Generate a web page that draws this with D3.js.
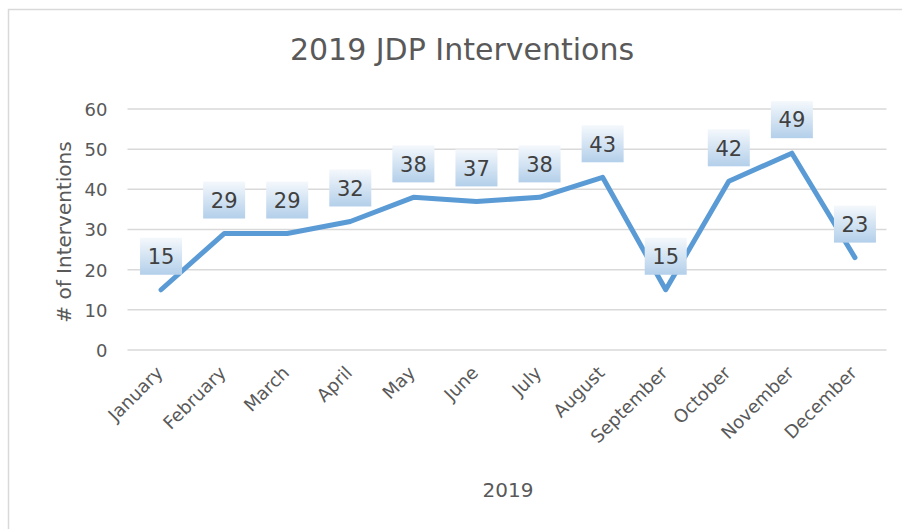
<!DOCTYPE html>
<html>
<head>
<meta charset="utf-8">
<script src="https://cdn.jsdelivr.net/npm/d3@7"></script>
<style>
  body { margin: 0; background: #fff; }
  text { font-family: "DejaVu Sans", "Open Sans", sans-serif; }
</style>
</head>
<body>
<svg id="chart" width="902" height="529"></svg>
<script>
// chart data
const months = ['January', 'February', 'March', 'April', 'May', 'June',
    'July', 'August', 'September', 'October', 'November', 'December'];
const interventions = [15, 29, 29, 32, 38, 37, 38, 43, 15, 42, 49, 23];
const yTicks = [0, 10, 20, 30, 40, 50, 60];

const svg = d3.select('#chart');

const margin = { left: 129.5, right: 886.5, top: 109, bottom: 350 };
const font = '"DejaVu Sans", "Open Sans", sans-serif';

// outer chart border
svg.append('rect')
    .attr('x', 8.5).attr('y', 9.5)
    .attr('width', 920).attr('height', 540)
    .attr('fill', 'none')
    .attr('stroke', '#d9d9d9')
    .attr('stroke-width', 1.5);

// gradient for the data label boxes
const grad = svg.append('defs').append('linearGradient')
    .attr('id', 'lblGrad')
    .attr('x1', 0).attr('y1', 0).attr('x2', 0).attr('y2', 1);
grad.append('stop').attr('offset', '0%').attr('stop-color', '#f4f8fc');
grad.append('stop').attr('offset', '100%').attr('stop-color', '#b3cfea');

const x = d3.scaleBand()
    .domain(months)
    .range([margin.left, margin.right]);

const y = d3.scaleLinear()
    .domain([0, 60])
    .range([margin.bottom, margin.top]);

// gridlines
svg.append('g')
    .selectAll('line')
    .data(yTicks)
    .join('line')
    .attr('x1', margin.left - 2)
    .attr('x2', margin.right)
    .attr('y1', d => y(d))
    .attr('y2', d => y(d))
    .attr('stroke', '#d9d9d9')
    .attr('stroke-width', 1.5);

// y axis (labels only)
const yAxis = svg.append('g')
    .attr('transform', `translate(${margin.left - 22},0)`)
    .call(d3.axisLeft(y).tickValues(yTicks).tickSize(0).tickPadding(0));
yAxis.select('.domain').remove();
yAxis.selectAll('text')
    .attr('fill', '#595959')
    .attr('font-size', 18)
    .attr('dy', '0.36em')
    .style('font-family', font);

// x axis (rotated labels)
const xAxis = svg.append('g')
    .attr('transform', `translate(0,${margin.bottom})`)
    .call(d3.axisBottom(x).tickSize(0).tickPadding(0));
xAxis.select('.domain').remove();
xAxis.selectAll('text')
    .attr('fill', '#595959')
    .attr('font-size', 18)
    .attr('text-anchor', 'end')
    .attr('dy', 0)
    .attr('transform', 'translate(3,24) rotate(-45)')
    .style('font-family', font);

// title
svg.append('text')
    .attr('x', 462).attr('y', 60)
    .attr('text-anchor', 'middle')
    .attr('font-size', 30)
    .attr('fill', '#595959')
    .text('2019 JDP Interventions');

// axis titles
svg.append('text')
    .attr('transform', `translate(71,232) rotate(-90)`)
    .attr('text-anchor', 'middle')
    .attr('font-size', 20)
    .attr('fill', '#595959')
    .text('# of Interventions');

svg.append('text')
    .attr('x', 508).attr('y', 497)
    .attr('text-anchor', 'middle')
    .attr('font-size', 20)
    .attr('fill', '#595959')
    .text('2019');

// the line
const line = d3.line()
    .x((d, i) => x(months[i]) + x.bandwidth() / 2)
    .y(d => y(d));

svg.append('path')
    .datum(interventions)
    .attr('d', line)
    .attr('fill', 'none')
    .attr('stroke', '#5b9bd5')
    .attr('stroke-width', 5)
    .attr('stroke-linejoin', 'round')
    .attr('stroke-linecap', 'round');

// data labels
const boxW = 42, boxH = 37, gap = 15;
const labels = svg.append('g')
    .selectAll('g')
    .data(interventions)
    .join('g')
    .attr('transform', (d, i) =>
        `translate(${x(months[i]) + x.bandwidth() / 2},${y(d) - gap - boxH / 2})`);

labels.append('rect')
    .attr('x', -boxW / 2).attr('y', -boxH / 2)
    .attr('width', boxW).attr('height', boxH)
    .attr('fill', 'url(#lblGrad)');

labels.append('text')
    .attr('text-anchor', 'middle')
    .attr('dy', '0.37em')
    .attr('font-size', 21)
    .attr('fill', '#404040')
    .text(d => d);
</script>
</body>
</html>
